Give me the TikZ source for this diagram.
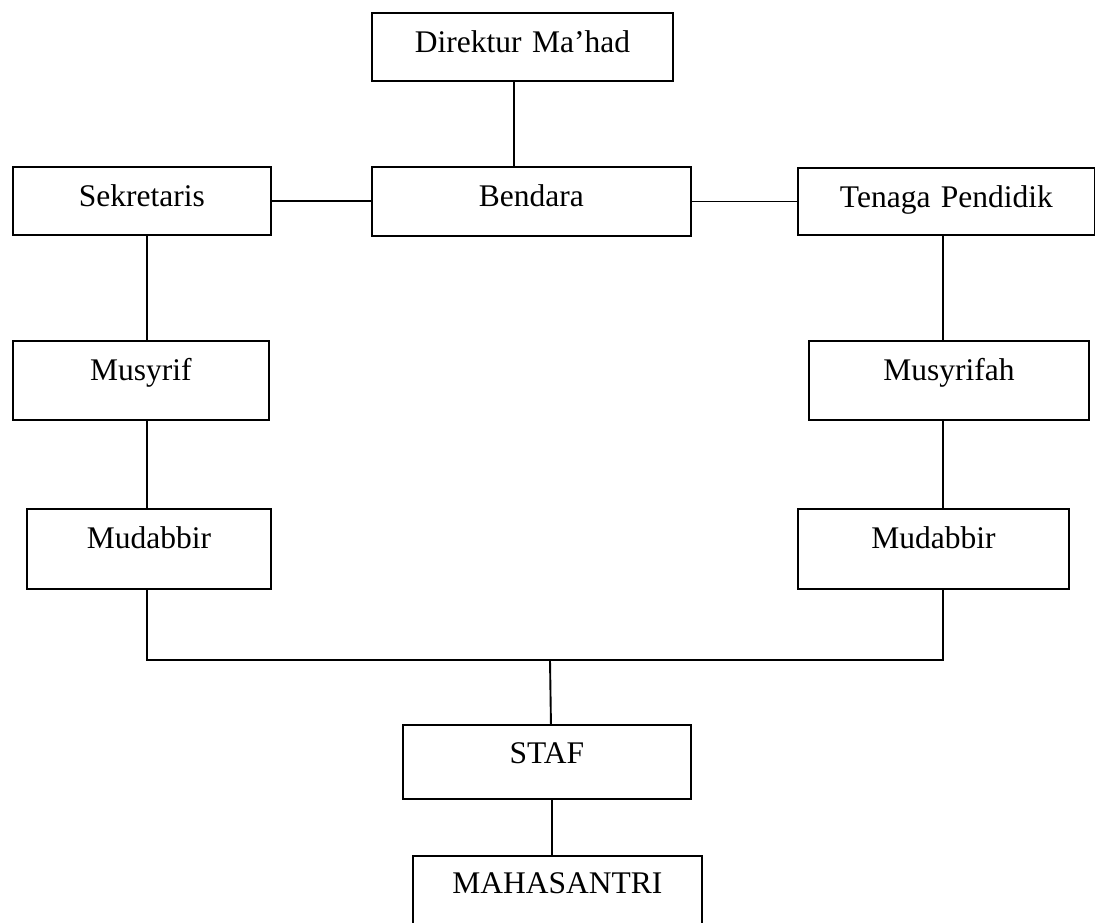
\documentclass[tikz,border=0pt]{standalone}
\usepackage{fontspec}
\setmainfont{Liberation Serif}
\usetikzlibrary{calc}

\tikzset{
  unit/.style={draw, line width=1.9pt, inner sep=0pt, align=center,
    text height=40pt, anchor=north west, font=\fontsize{31.5}{36}\selectfont},
  link/.style={line width=1.9pt}
}

\begin{document}
\begin{tikzpicture}[x=1pt, y=-1pt]
\useasboundingbox (0,0) rectangle (1095,922);

\node [unit, text width=301pt, text depth=28pt] (dir) at (371,12) {Direktur Ma'had};
\node [unit, text width=319pt, text depth=29pt] (bend) at (371,166) {Bendara};
\node [unit, text width=258pt, text depth=28pt] (sek) at (12,166) {Sekretaris};
\node [unit, text width=297pt, text depth=27pt] (ten) at (797,167) {Tenaga Pendidik};

\node [unit, text width=256pt, text depth=39pt] (mus) at (12,340) {Musyrif};
\node [unit, text width=280pt, text depth=39pt] (musah) at (808,340) {Musyrifah};

\node [unit, text width=244pt, text depth=40pt] (mudL) at (26,508) {Mudabbir};
\node [unit, text width=271pt, text depth=40pt] (mudR) at (797,508) {Mudabbir};

\node [unit, text width=288pt, text depth=35pt, text height=39pt] (staf) at (402,724) {STAF};
\node [unit, text width=289pt, text depth=40pt, text height=38pt] (maha) at (412,855) {MAHASANTRI};

\coordinate (bus) at (550,660);

% top
\draw [link] ([xshift=-8.5pt]dir.south) -- ([xshift=-8.5pt]dir.south |- bend.north);
\draw [link] (sek.east) -- (sek.east -| bend.west);
\draw [link] (bend.east |- ten.west) -- (ten.west);

% left and right
\draw [link] ([xshift=5pt]sek.south) -- ([xshift=5pt]sek.south |- mus.north);
\draw [link] ([xshift=-2pt]mudL.north |- mus.south) -- ([xshift=-2pt]mudL.north);
\draw [link] ([xshift=-3.5pt]ten.south) -- ([xshift=-3.5pt]ten.south |- musah.north);
\draw [link] ([xshift=-6pt]musah.south) -- ([xshift=-6pt]musah.south |- mudR.north);

% bottom
\draw [link] ([xshift=-2pt]mudL.south) |- (bus) -| ([xshift=9.5pt]mudR.south);
\draw [link] (bus) -- ([xshift=4pt]staf.north);
\draw [link] ([xshift=5pt]staf.south) -- ([xshift=5pt]staf.south |- maha.north);

\end{tikzpicture}
\end{document}
